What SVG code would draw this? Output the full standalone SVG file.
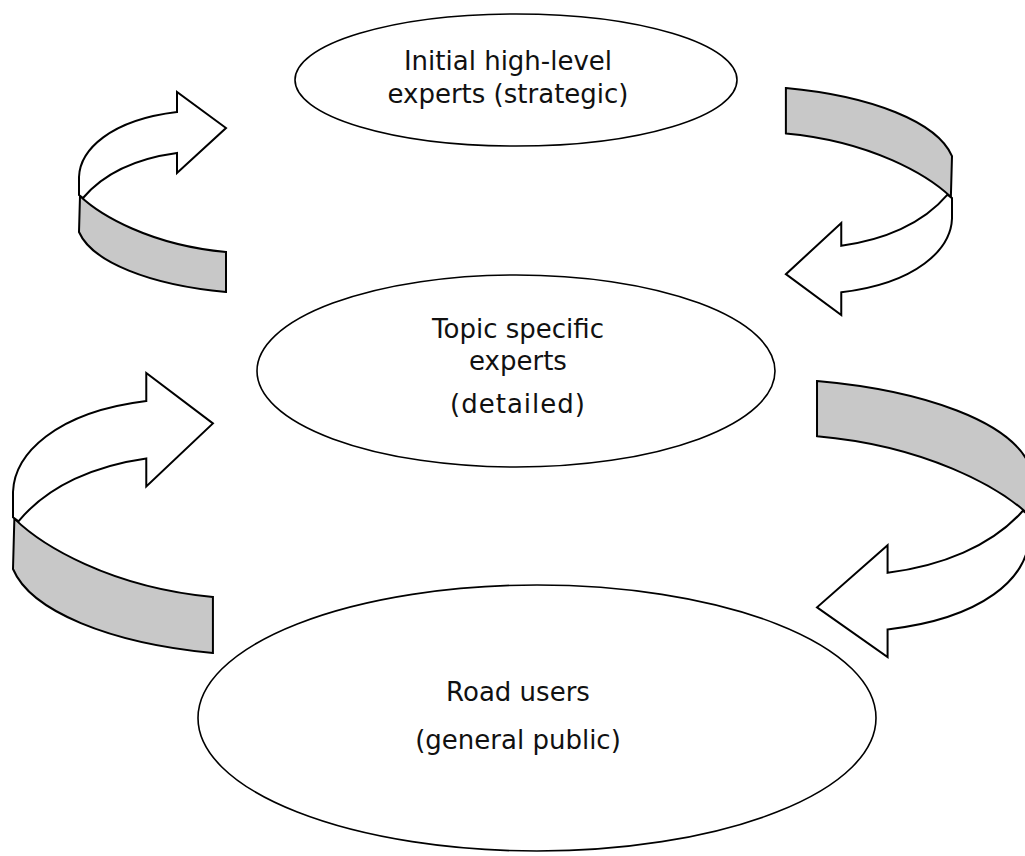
<svg xmlns="http://www.w3.org/2000/svg" xmlns:xlink="http://www.w3.org/1999/xlink" width="1025" height="856" viewBox="0 0 1025 856">
  <style>
    .node { fill: #ffffff; stroke: #000000; stroke-width: 1.6; }
    .label { font-family: "DejaVu Sans", Verdana, sans-serif; font-size: 26px; fill: #111111; text-anchor: middle; }
    .band-front { fill: #ffffff; stroke: #000000; stroke-width: 2; stroke-linejoin: miter; vector-effect: non-scaling-stroke; }
    .band-back { fill: #c8c8c8; stroke: #000000; stroke-width: 2; stroke-linejoin: miter; vector-effect: non-scaling-stroke; }
  </style>
  <defs>
    <!-- curled ribbon arrow: white front with head, grey underside -->
    <g id="curl-arrow">
      <path class="band-back" d="M1,104 C21,123 71,153 147,160 L147,200 C71,193 13,170 0,140 Z"/>
      <path class="band-front" d="M98,20 L98,0 L147,36 L98,81 L98,61 C61,66 26,80 4,106 L0,103 L0,85 C1,58 31,28 98,20 Z"/>
    </g>
  </defs>
  <rect width="1025" height="856" fill="#ffffff"/>

  <g id="connectors">
    <use xlink:href="#curl-arrow" href="#curl-arrow" transform="translate(79,92)"/>
    <use xlink:href="#curl-arrow" href="#curl-arrow" transform="translate(952,315) scale(-1.13,-1.135)"/>
    <use xlink:href="#curl-arrow" href="#curl-arrow" transform="translate(13,373) scale(1.36,1.4)"/>
    <use xlink:href="#curl-arrow" href="#curl-arrow" transform="translate(1028.7,657) scale(-1.44,-1.38)"/>
  </g>

  <g id="node-strategic">
    <ellipse class="node" cx="516" cy="80" rx="221" ry="66"/>
    <text class="label" x="508" y="70">Initial high-level</text>
    <text class="label" x="508" y="103">experts (strategic)</text>
  </g>

  <g id="node-detailed">
    <ellipse class="node" cx="516" cy="371" rx="259" ry="96"/>
    <text class="label" x="518" y="338">Topic specific</text>
    <text class="label" x="518" y="370">experts</text>
    <text class="label" x="518" y="413" letter-spacing="1">(detailed)</text>
  </g>

  <g id="node-public">
    <ellipse class="node" cx="537" cy="718" rx="339" ry="133"/>
    <text class="label" x="518" y="701">Road users</text>
    <text class="label" x="518" y="749">(general public)</text>
  </g>
</svg>
